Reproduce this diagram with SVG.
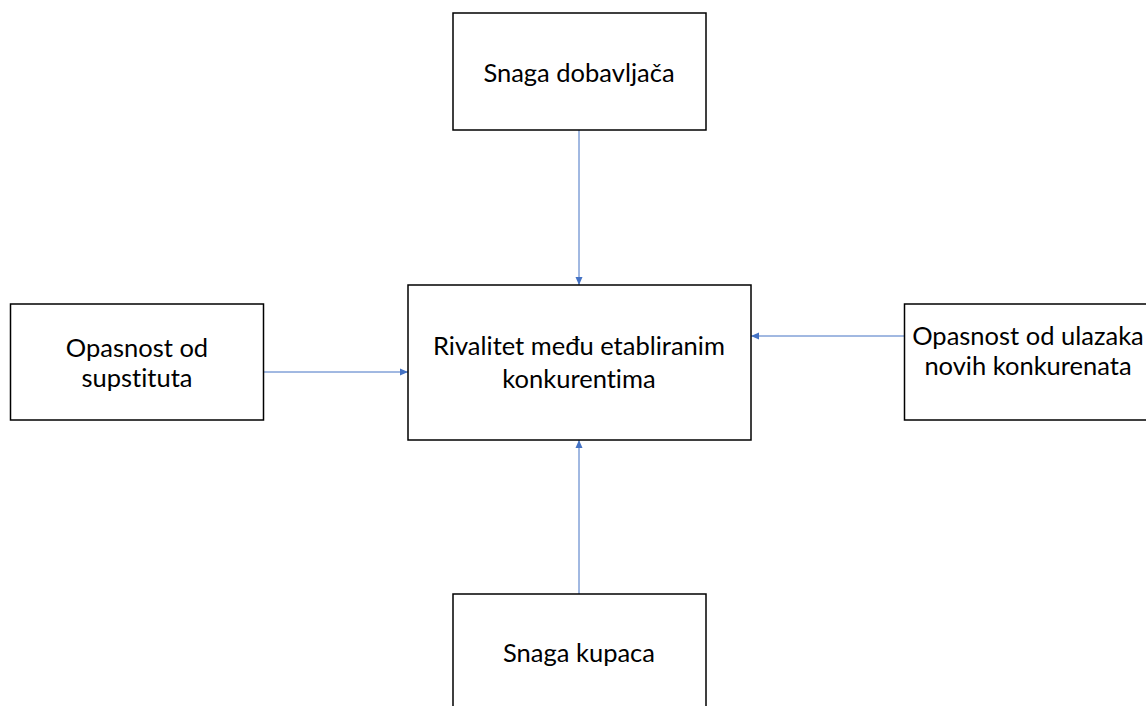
<svg xmlns="http://www.w3.org/2000/svg" width="1146" height="706" viewBox="0 0 1146 706">
<style>
.box{fill:#fff;stroke:#000;stroke-width:1.5}
.lbl{font-family:Lato,"Open Sans","Liberation Sans",sans-serif;font-size:25.5px;fill:#000;text-anchor:middle;font-variant-ligatures:none}
.edge{stroke:#4472C4;stroke-width:1;fill:none;marker-end:url(#ah)}
</style>
<defs>
<marker id="ah" markerWidth="8" markerHeight="8" refX="8" refY="4" orient="auto" markerUnits="userSpaceOnUse">
<path d="M0,0.5 L8,4 L0,7.5 Z" fill="#4472C4"/>
</marker>
</defs>
<g id="connectors">
<line class="edge" x1="579" y1="130" x2="579" y2="285"/>
<line class="edge" x1="579" y1="594" x2="579" y2="440"/>
<line class="edge" x1="263" y1="372" x2="408" y2="372"/>
<line class="edge" x1="904" y1="336" x2="751" y2="336"/>
</g>
<g id="center">
<rect class="box" x="408" y="285" width="343" height="155"/>
<text class="lbl" x="579" y="355">Rivalitet među etabliranim</text>
<text class="lbl" x="579" y="388">konkurentima</text>
</g>
<g id="top">
<rect class="box" x="453" y="13" width="253" height="117"/>
<text class="lbl" x="579" y="82">Snaga dobavljača</text>
</g>
<g id="bottom">
<rect class="box" x="453" y="594" width="253" height="130"/>
<text class="lbl" x="579" y="662">Snaga kupaca</text>
</g>
<g id="left">
<rect class="box" x="10.5" y="304" width="253" height="116"/>
<text class="lbl" x="137" y="357">Opasnost od</text>
<text class="lbl" x="137" y="387">supstituta</text>
</g>
<g id="right">
<rect class="box" x="904.5" y="304" width="253" height="116"/>
<text class="lbl" x="1028" y="345">Opasnost od ulazaka</text>
<text class="lbl" x="1028" y="375">novih konkurenata</text>
</g>
</svg>
